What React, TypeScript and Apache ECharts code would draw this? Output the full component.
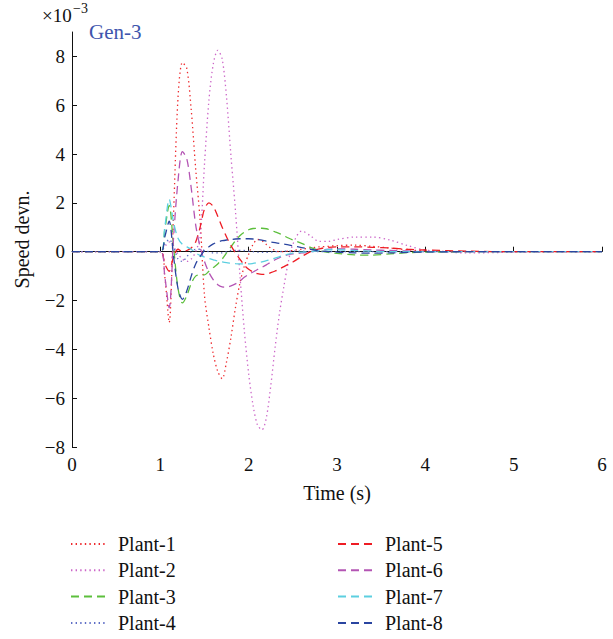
import React, { useEffect, useRef } from "react";
import * as echarts from "echarts";

const T = [0, 1.0, 1.05, 1.1, 1.15, 1.2, 1.25, 1.3, 1.35, 1.4, 1.45, 1.5, 1.55, 1.6, 1.65, 1.7, 1.75, 1.8, 1.85, 1.9, 1.95, 2.0, 2.05, 2.1, 2.15, 2.2, 2.25, 2.3, 2.35, 2.4, 2.45, 2.5, 2.6, 2.7, 2.8, 2.9, 3.0, 3.2, 3.4, 3.6, 3.8, 4.0, 4.5, 5.0, 5.5, 6.0];

const p1 = [0, 0, -1.0, -2.9, 1.6, 6.3, 7.75, 7.5, 5.8, 3.4, 1.3, -1.8, -3.1, -4.2, -4.9, -5.2, -4.5, -3.5, -2.3, -1.3, -0.6, -0.1, 0.3, 0.5, 0.45, 0.3, 0.15, 0.05, 0.0, 0.0, 0.03, 0.05, 0.1, 0.15, 0.2, 0.22, 0.25, 0.27, 0.22, 0.15, 0.08, 0.03, 0, 0, 0, 0];
const p2 = [0, 0, 0.2, 0.4, 0.2, -0.1, -0.3, -0.4, -0.3, 0.0, 0.6, 3.6, 6.2, 7.7, 8.25, 7.9, 6.3, 3.9, 1.7, -0.9, -3.2, -5.0, -6.3, -7.1, -7.3, -6.8, -5.5, -3.9, -2.5, -1.4, -0.4, 0.3, 0.85, 0.65, 0.42, 0.42, 0.5, 0.6, 0.6, 0.48, 0.25, 0.07, -0.05, -0.02, 0, 0];
const p3 = [0, 0, 0.9, 1.9, 0.2, -1.5, -2.1, -1.8, -1.3, -1.0, -0.95, -0.95, -0.8, -0.65, -0.5, -0.3, -0.05, 0.2, 0.45, 0.65, 0.8, 0.9, 0.95, 0.96, 0.96, 0.94, 0.88, 0.81, 0.74, 0.65, 0.56, 0.48, 0.34, 0.18, 0.05, -0.03, -0.07, -0.13, -0.14, -0.09, -0.04, -0.02, 0, 0, 0, 0];
const p4 = [0, 0, 0.3, 0.5, 0.2, -0.3, -0.4, -0.2, 0.0, 0.1, 0.1, 0.05, 0, -0.05, -0.05, -0.05, 0, 0.05, 0.05, 0.05, 0.05, 0.02, 0, -0.02, -0.03, -0.03, -0.02, 0, 0, 0.02, 0.02, 0.02, 0.02, 0, 0, 0, 0, 0, 0, 0, 0, 0, 0, 0, 0, 0];
const p5 = [0, 0, -0.5, -0.8, -0.2, 0.1, 0.0, 0.05, 0.15, 0.4, 1.0, 1.75, 2.0, 1.85, 1.45, 1.0, 0.6, 0.25, -0.05, -0.3, -0.55, -0.72, -0.83, -0.9, -0.93, -0.92, -0.86, -0.79, -0.7, -0.61, -0.51, -0.42, -0.2, 0.0, 0.12, 0.18, 0.2, 0.2, 0.18, 0.15, 0.1, 0.07, 0.02, 0, 0, 0];
const p6 = [0, 0, -1.0, -2.3, 0.6, 2.9, 4.1, 3.8, 2.6, 1.1, 0.2, -0.4, -0.85, -1.15, -1.35, -1.44, -1.45, -1.4, -1.32, -1.2, -1.05, -0.93, -0.83, -0.73, -0.64, -0.54, -0.43, -0.33, -0.24, -0.17, -0.12, -0.09, -0.05, 0.0, 0.05, 0.1, 0.12, 0.1, 0.07, 0.05, 0.03, 0.0, 0, 0, 0, 0];
const p7 = [0, 0, 1.0, 2.15, 1.2, 0.55, 0.3, 0.2, 0.1, -0.05, -0.15, -0.22, -0.28, -0.33, -0.38, -0.42, -0.45, -0.47, -0.49, -0.5, -0.5, -0.5, -0.48, -0.45, -0.42, -0.37, -0.32, -0.26, -0.2, -0.15, -0.1, -0.06, -0.02, 0.0, 0.05, 0.08, 0.08, 0.05, 0.02, 0, 0, 0, 0, 0, 0, 0];
const p8 = [0, 0, 0.6, 1.25, -0.2, -1.5, -1.95, -1.6, -1.0, -0.5, -0.2, 0.05, 0.2, 0.32, 0.4, 0.45, 0.48, 0.5, 0.52, 0.53, 0.53, 0.53, 0.52, 0.5, 0.47, 0.43, 0.4, 0.37, 0.34, 0.31, 0.28, 0.24, 0.17, 0.1, 0.04, 0.0, -0.02, -0.05, -0.06, -0.05, -0.03, -0.01, 0, 0, 0, 0];

const names = ["Plant-1", "Plant-2", "Plant-3", "Plant-4", "Plant-5", "Plant-6", "Plant-7", "Plant-8"];
const values = [p1, p2, p3, p4, p5, p6, p7, p8];
const colors = ["#ee2a2e", "#cc66c8", "#5cbf3c", "#5f6fc6", "#ee1c24", "#b455b4", "#5ccfe0", "#2a45a0"];
const dotted = [1.4, 3.2];
const dashed = [8, 5];
const styles = [dotted, dotted, dashed, dotted, dashed, dashed, dashed, dashed];

const yTicks = [-8, -6, -4, -2, 0, 2, 4, 6, 8];
const xTicks = [0, 1, 2, 3, 4, 5, 6];

const FONT = "Liberation Serif";

export default function App() {
  const ref = useRef<HTMLDivElement>(null);
  useEffect(() => {
    if (!ref.current) return;
    const chart = echarts.init(ref.current, null, { renderer: "svg" });
    const series = names.map((n, i) => ({
      name: n,
      type: "line",
      data: T.map((t, k) => [t, values[i][k]]),
      showSymbol: false,
      symbol: "none",
      smooth: 0.3,
      lineStyle: { color: colors[i], width: 1.3, type: styles[i] },
      itemStyle: { color: colors[i] },
    }));
    const legendBase = {
      orient: "vertical",
      top: 534,
      itemWidth: 35,
      itemHeight: 14,
      itemGap: 6.3,
      padding: 0,
      selectedMode: false,
      itemStyle: { opacity: 0 },
      textStyle: { fontFamily: FONT, fontSize: 20, color: "#111", lineHeight: 20, padding: [0, 0, 0, 7] },
    };
    chart.setOption({
      animation: false,
      grid: { left: 72, top: 32, width: 530, height: 415, containLabel: false },
      xAxis: {
        type: "value",
        min: 0,
        max: 6,
        interval: 1,
        name: "Time (s)",
        nameLocation: "middle",
        nameGap: 36,
        nameTextStyle: { fontFamily: FONT, fontSize: 20, color: "#111" },
        axisLine: { show: true, lineStyle: { color: "#111", width: 1 } },
        axisTick: { show: true, inside: true, length: 5, lineStyle: { color: "#111" }, customValues: xTicks },
        axisLabel: { fontFamily: FONT, fontSize: 19, color: "#111", margin: 8, customValues: xTicks },
        splitLine: { show: false },
      },
      yAxis: {
        type: "value",
        min: -8,
        max: 9,
        interval: 2,
        name: "Speed devn.",
        nameLocation: "middle",
        nameGap: 40,
        nameTextStyle: { fontFamily: FONT, fontSize: 20, color: "#111" },
        axisLine: { show: true, lineStyle: { color: "#111", width: 1 } },
        axisTick: { show: true, inside: true, length: 5, lineStyle: { color: "#111" }, customValues: yTicks },
        axisLabel: {
          fontFamily: FONT,
          fontSize: 19,
          color: "#111",
          margin: 7,
          customValues: yTicks,
          formatter: (v: number) => (v < 0 ? "\u2212" + Math.abs(v) : String(v)),
        },
        splitLine: { show: false },
      },
      legend: [
        { ...legendBase, left: 70, data: names.slice(0, 4) },
        { ...legendBase, left: 337, data: names.slice(4) },
      ],
      graphic: [
        {
          type: "text",
          left: 42,
          top: 6,
          style: { text: "\u00d710", fontFamily: FONT, fontSize: 19, fill: "#111" },
        },
        {
          type: "text",
          left: 73,
          top: 1,
          style: { text: "\u22123", fontFamily: FONT, fontSize: 14, fill: "#111" },
        },
        {
          type: "text",
          left: 89,
          top: 21,
          style: { text: "Gen-3", fontFamily: FONT, fontSize: 21, fill: "#3e55ad" },
        },
      ],
      series,
    });
    return () => chart.dispose();
  }, []);
  return <div ref={ref} style={{ width: 613, height: 639, position: "absolute", left: 0, top: 0 }} />;
}
